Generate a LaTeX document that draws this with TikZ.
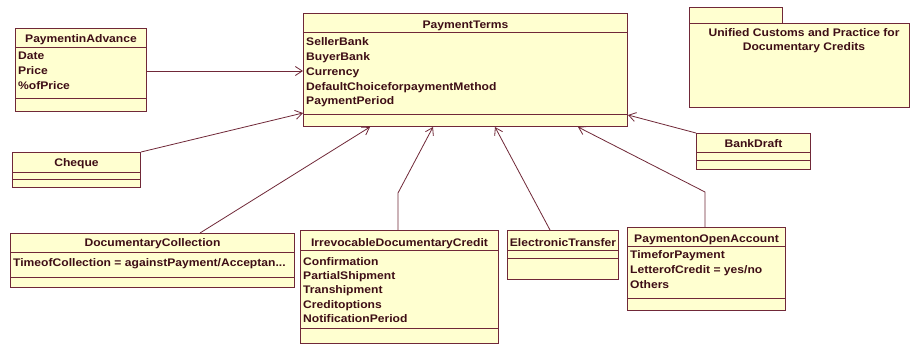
\documentclass[tikz,border=0pt]{standalone}
\usepackage{fontspec}
\setmainfont{Liberation Sans}[FakeStretch=1.1]
\usetikzlibrary{arrows.meta,calc}

\definecolor{umlfill}{RGB}{255,255,208}
\definecolor{umlline}{RGB}{112,40,56}
\definecolor{umltext}{RGB}{62,14,22}

\tikzset{
  classbox/.style={draw=umlline, fill=umlfill, line width=1pt, inner sep=0pt,
    anchor=north west},
  ctitle/.style={text=umltext, font=\bfseries\fontsize{11}{14}\selectfont,
    inner sep=0pt, anchor=base},
  cattr/.style={text=umltext, font=\bfseries\fontsize{11}{14}\selectfont,
    inner sep=0pt, anchor=base west},
  sepline/.style={draw=umlline, line width=1pt},
  assoc/.style={draw=umlline, line width=0.8pt,
    -{Straight Barb[length=7pt,width=9pt]}},
}

% class box: name, x, y, width, height, title rule, separator rule,
% title baseline (offsets measured down from the top edge), title
\newcommand\umlclass[9]{%
  \node[classbox, minimum width=#4pt, minimum height=#5pt] (#1) at (#2,#3) {};
  \draw[sepline] ($(#1.north west)+(0,#6)$) -- ($(#1.north east)+(0,#6)$);
  \draw[sepline] ($(#1.north west)+(0,#7)$) -- ($(#1.north east)+(0,#7)$);
  \node[ctitle] (#1-title) at ($(#1.north)+(0,#8)$) {#9};
}
% attribute list: class, first baseline, line step, entries
\newcommand\umlattrs[4]{%
  \foreach \attrtext [count=\i from 0] in {#4}
    \node[cattr] (#1-a\i) at ($(#1.north west)+(3,#2+\i*#3)$) {\attrtext};
}

\begin{document}
\begin{tikzpicture}[x=1pt,y=-1pt]
\clip (0,0) rectangle (911,345);
\fill[white] (0,0) rectangle (911,345);

% central class
\umlclass{pt}{303}{13}{324}{113}{20}{101}{15.3}{PaymentTerms}
\umlattrs{pt}{32.7}{14.8}{SellerBank,BuyerBank,Currency,DefaultChoiceforpaymentMethod,PaymentPeriod}

% payment methods
\umlclass{pia}{15}{28}{131}{83}{20}{71}{14.7}{PaymentinAdvance}
\umlattrs{pia}{31.5}{14.8}{Date,Price,\%ofPrice}

\umlclass{chq}{12}{152}{128}{35}{20}{27}{14}{Cheque}

\umlclass{bd}{696}{133}{114}{36}{19}{27}{14.3}{BankDraft}

\umlclass{dc}{10}{233}{284}{54}{19}{44}{13.7}{DocumentaryCollection}
\node[cattr] (dc-a0) at ($(dc.north west)+(3,33)$) {TimeofCollection = againstPayment/Acceptan...};

\umlclass{idc}{300}{230}{198}{113}{20}{98}{16}{IrrevocableDocumentaryCredit}
\umlattrs{idc}{35}{14.4}{Confirmation,PartialShipment,Transhipment,Creditoptions,NotificationPeriod}

\umlclass{et}{507}{230}{111}{49}{20}{28}{16}{ElectronicTransfer}

\umlclass{poa}{627}{227}{158}{83}{19}{71}{15.7}{PaymentonOpenAccount}
\umlattrs{poa}{31.3}{15}{TimeforPayment,LetterofCredit = yes/no,Others}

% package
\node[classbox, minimum width=93pt, minimum height=16pt] (pkgtab) at (689,7) {};
\node[classbox, minimum width=220pt, minimum height=84pt] (pkg) at (689,23) {};
\node[ctitle] (pkg-l1) at (804,36.7) {Unified Customs and Practice for};
\node[ctitle] (pkg-l2) at (804,50.7) {Documentary Credits};

% associations
\draw[assoc] ($(pia.north east)+(0,43)$) -- ($(pt.north west)+(0,58)$);
\draw[assoc] (chq.north east) -- ($(pt.north west)+(0,100)$);
\draw[assoc] ($(dc.north west)+(190,0)$) -- ($(pt.south west)+(67,0)$);
\draw[assoc] ($(idc.north west)+(98,0)$) -- ++(0,-37) -- ($(pt.south west)+(130,0)$);
\draw[assoc] ($(et.north west)+(43,0)$) -- ($(pt.south west)+(192,0)$);
\draw[assoc] ($(poa.north west)+(78,0)$) -- ++(0,-35) -- ($(pt.south west)+(275,0)$);
\draw[assoc] (bd.north west) -- ($(pt.north east)+(0,102)$);
\end{tikzpicture}
\end{document}
